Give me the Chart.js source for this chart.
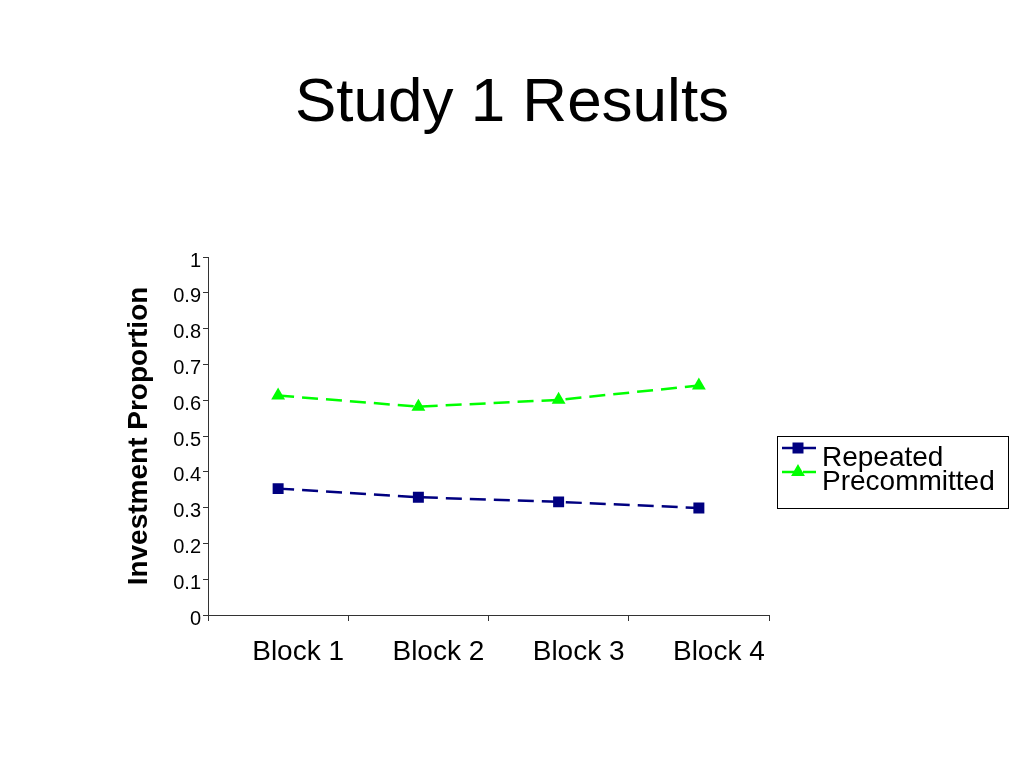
<!DOCTYPE html>
<html>
<head>
<meta charset="utf-8">
<title>Study 1 Results</title>
<script src="https://cdn.jsdelivr.net/npm/chart.js@4.4.1/dist/chart.umd.min.js"></script>
<style>
    html, body { margin: 0; padding: 0; background: #fff; }
    #wrap { position: relative; width: 1024px; height: 768px; }
    #title {
        position: absolute; left: 0; top: 62px; width: 1024px;
        text-align: center; font-family: "Liberation Sans", Arial, sans-serif;
        font-size: 62px; line-height: 76px; color: #000;
    }
    canvas { position: absolute; left: 0; top: 0; }
</style>
</head>
<body>
<div id="wrap">
    <div id="title">Study 1 Results</div>
    <canvas id="studyChart" width="1024" height="768"></canvas>
</div>
<script>
const blocks = ["Block 1", "Block 2", "Block 3", "Block 4"];
const repeated = [0.353, 0.329, 0.316, 0.299];
const precommitted = [0.613, 0.582, 0.601, 0.641];
const yTicks = [0, 0.1, 0.2, 0.3, 0.4, 0.5, 0.6, 0.7, 0.8, 0.9, 1];

const FONT = '"Liberation Sans", Arial, sans-serif';
const dash = [16, 8];

// legend box drawn by hand, the built-in one has no frame
const boxLegend = {
    id: "boxLegend",
    afterDraw(chart) {
        const ctx = chart.ctx;
        ctx.save();
        ctx.strokeStyle = "#000";
        ctx.lineWidth = 1;
        ctx.strokeRect(777.5, 436.5, 231, 72);
        chart.data.datasets.forEach((ds, i) => {
            const y = 448 + i * 24;
            ctx.strokeStyle = ds.borderColor;
            ctx.lineWidth = 2.5;
            ctx.setLineDash([14, 7]);
            ctx.beginPath();
            ctx.moveTo(782, y);
            ctx.lineTo(816, y);
            ctx.stroke();
            ctx.setLineDash([]);
            Chart.helpers.drawPoint(ctx, {
                pointStyle: ds.pointStyle,
                radius: ds.pointRadius,
                borderWidth: 1
            }, 798, y);
            ctx.fillStyle = ds.pointBackgroundColor;
            ctx.fill();
            ctx.fillStyle = "#000";
            ctx.font = "28px " + FONT;
            ctx.textBaseline = "middle";
            ctx.fillText(ds.label, 822, y + 10);
        });
        ctx.restore();
    }
};

new Chart(document.getElementById("studyChart"), {
    type: "line",
    data: {
        labels: blocks,
        datasets: [{
            label: "Repeated",
            data: repeated,
            borderColor: "#000080",
            backgroundColor: "#000080",
            pointBackgroundColor: "#000080",
            pointBorderColor: "#000080",
            pointStyle: "rect",
            pointRadius: 6,
            borderWidth: 2.5,
            borderDash: dash,
            tension: 0
        }, {
            label: "Precommitted",
            data: precommitted,
            borderColor: "#00ff00",
            backgroundColor: "#00ff00",
            pointBackgroundColor: "#00ff00",
            pointBorderColor: "#00ff00",
            pointStyle: "triangle",
            pointRadius: 5.5,
            borderWidth: 2.5,
            borderDash: dash,
            tension: 0
        }]
    },
    options: {
        responsive: false,
        animation: false,
        layout: { padding: { top: 257, right: 255, bottom: 0, left: 0 } },
        plugins: {
            legend: { display: false },
            tooltip: { enabled: false }
        },
        scales: {
            x: {
                offset: true,
                afterFit: (scale) => { scale.height = 153; },
                grid: {
                    offset: true,
                    drawOnChartArea: false,
                    drawTicks: true,
                    tickLength: 6,
                    color: "#333"
                },
                border: { color: "#333", width: 1 },
                ticks: {
                    color: "#000",
                    font: { family: FONT, size: 28 },
                    padding: 14,
                    labelOffset: 20,
                    maxRotation: 0
                }
            },
            y: {
                min: 0,
                max: 1,
                afterFit: (scale) => { scale.width = 208; },
                afterBuildTicks: (scale) => {
                    scale.ticks = yTicks.map((v) => ({ value: v }));
                },
                grid: {
                    drawOnChartArea: false,
                    drawTicks: true,
                    tickLength: 5,
                    color: "#333"
                },
                border: { color: "#333", width: 1 },
                ticks: {
                    color: "#000",
                    font: { family: FONT, size: 20 },
                    padding: 2,
                    labelOffset: 4,
                    callback: (v) => String(v)
                },
                title: {
                    display: true,
                    text: "Investment Proportion",
                    color: "#000",
                    font: { family: FONT, size: 28, weight: "bold" },
                    padding: { top: 122, bottom: 0 }
                }
            }
        }
    },
    plugins: [boxLegend]
});
</script>
</body>
</html>
